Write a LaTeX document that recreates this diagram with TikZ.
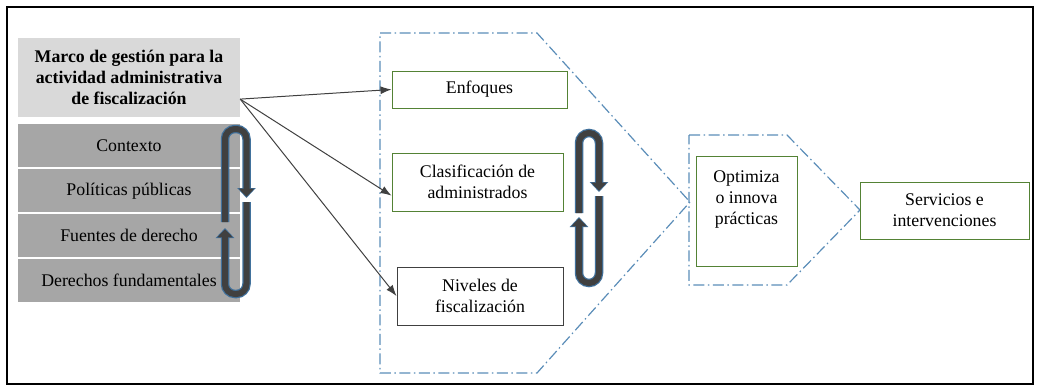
\documentclass[tikz,border=0pt]{standalone}
\usepackage{fontspec}
\setmainfont{Liberation Serif}
\usetikzlibrary{shapes,arrows,arrows.meta,positioning}
\definecolor{framegray}{HTML}{404040}
\definecolor{titlefill}{HTML}{D9D9D9}
\definecolor{layerfill}{HTML}{A6A6A6}
\definecolor{boxgreen}{HTML}{548235}
\definecolor{regionblue}{HTML}{5B8DB8}
\definecolor{loopblue}{HTML}{41719C}
\newcommand{\boxfont}{\fontsize{17.8}{21}\selectfont}
\tikzstyle{titlebox} = [rectangle, fill=titlefill, minimum width=222pt,
    minimum height=79pt, inner sep=0pt, align=center, font=\boxfont\bfseries]
\tikzstyle{layer} = [rectangle, fill=layerfill, minimum width=222pt,
    minimum height=43pt, inner sep=0pt]
\tikzstyle{block} = [rectangle, draw=boxgreen, fill=white, line width=1pt,
    align=center, inner sep=0pt]
\tikzstyle{region} = [draw=regionblue, line width=1.2pt,
    dash pattern=on 11pt off 3.5pt on 1.5pt off 3.5pt]
\tikzstyle{line} = [draw, framegray, line width=1pt, -{Latex[length=11pt,width=8pt]}]
\tikzstyle{loopout} = [draw=loopblue, line width=8.5pt, rounded corners=10pt,
    -{Triangle[width=18pt,length=10pt]}]
\tikzstyle{loopin} = [draw=framegray, line width=6pt, rounded corners=10pt,
    shorten >=1.3pt, -{Triangle[width=15pt,length=8pt]}]

\begin{document}
\begin{tikzpicture}[x=1pt, y=-1pt, font=\boxfont]
  \useasboundingbox (0,0) rectangle (1040,388);
  \draw [line width=1.5pt] (7,7) rectangle (1033,384);
  % marco y capas
  \node [titlebox] (title) at (129,77.5) {Marco de gestión para la\\actividad administrativa\\de fiscalización};
  \node [layer, below=7pt of title] (ctx) {Contexto};
  \node [layer, below=1.5pt of ctx] (pol) {Políticas públicas};
  \node [layer, below=1.5pt of pol] (fue) {Fuentes de derecho};
  \node [layer, below=1.5pt of fue] (der) {Derechos fundamentales};
  % zonas
  \draw [region] (380,33) -- (537,33) -- (690,202) -- (537,373) -- (380,373) -- cycle;
  \draw [region] (689,135) -- (787,135) -- (860,210) -- (787,285) -- (689,285) -- cycle;
  % bloques
  \node [block, minimum width=175pt, minimum height=37pt] (enf) at (479.5,89.5) {Enfoques};
  \node [block, minimum width=171pt, minimum height=58pt] (clas) at (477.5,182) {Clasificación de\\administrados};
  \node [block, draw=framegray, minimum width=166pt, minimum height=58pt] (niv) at (480,296) {Niveles de\\fiscalización};
  \node [block, minimum width=101pt, minimum height=110pt] (opt) at (746.5,211) {};
  \node [below=12pt of opt.north, align=center] (optlabel) {Optimiza\\o innova\\prácticas};
  \node [block, minimum width=169pt, minimum height=57pt] (serv) at (944.5,210.5) {Servicios e\\intervenciones};
  % flechas
  \coordinate (fork) at (title.349);
  \path [line] (fork) -- (enf.west);
  \path [line] (fork) -- (clas.189);
  \path [line] (fork) -- (niv.west);
  % ciclos
  \draw [loopout] (225,222) -- (225,129) -- (246.5,129) -- (246.5,198);
  \draw [loopin]  (225,222) -- (225,129) -- (246.5,129) -- (246.5,198);
  \draw [loopout] (246.5,202) -- (246.5,294) -- (225,294) -- (225,228);
  \draw [loopin]  (246.5,202) -- (246.5,294) -- (225,294) -- (225,228);
  \draw [loopout] (579,213) -- (579,133) -- (599,133) -- (599,192);
  \draw [loopin]  (579,213) -- (579,133) -- (599,133) -- (599,192);
  \draw [loopout] (599,196) -- (599,283) -- (579,283) -- (579,217);
  \draw [loopin]  (599,196) -- (599,283) -- (579,283) -- (579,217);
\end{tikzpicture}
\end{document}
